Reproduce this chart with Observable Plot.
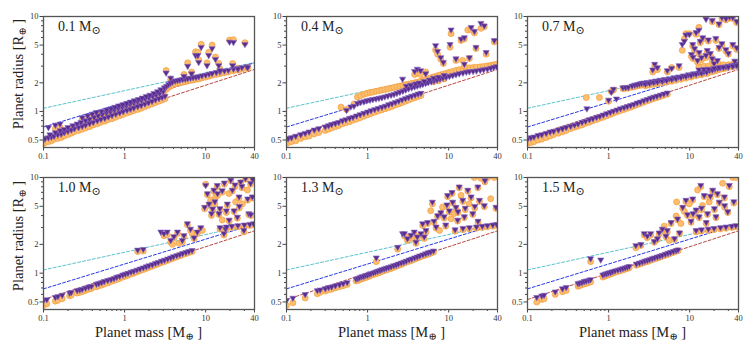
<!DOCTYPE html>
<html><head><meta charset="utf-8">
<script src="https://cdn.jsdelivr.net/npm/d3@7"></script>
<script src="https://cdn.jsdelivr.net/npm/@observablehq/plot@0.6"></script>
<style>
body{margin:0;background:#fff;}
#wrap{position:relative;width:756px;height:353px;overflow:hidden;font-family:"Liberation Serif","DejaVu Serif",serif;color:#222;}
.pan{position:absolute;}
.lab{position:absolute;font-size:14px;line-height:15px;white-space:nowrap;}
.lab .sub{font-size:11px;position:relative;top:3px;}
.ylab{position:absolute;font-size:14.5px;white-space:nowrap;transform:translate(-50%,-50%) rotate(-90deg);}
.xlab{position:absolute;font-size:14.5px;white-space:nowrap;transform:translate(-50%,-50%);}
.sub{font-size:10px;position:relative;top:3px;}
</style></head><body><div id="wrap"></div>
<script>
// ---- axis ticks ----
const massTicks = [0.1, 1, 10, 40];
const massMinor = [0.2,0.3,0.4,0.5,0.6,0.7,0.8,0.9,2,3,4,5,6,7,8,9,20,30];
const radiusTicks = [0.5, 1, 2, 5, 10];
const radiusMinor = [0.6,0.7,0.8,0.9,3,4,6,7,8,9];
// ---- dashed reference relations (values at mass 0.1 and 40) ----
const lineMass = [0.1, 40];
const cyanLine = [1.08, 3.28];
const blueLine = [0.685, 3.25];
const redLine = [0.53, 2.77];
// ---- panel titles (stellar mass) ----
const starMasses = ["0.1", "0.4", "0.7", "1.0", "1.3", "1.5"];

// each row: [planet mass, radius (orange circle), radius (purple triangle)]
const p1 = [
[0.10,0.46,0.50],[0.105,0.47,0.52],[0.115,0.48,0.53],[0.125,0.49,0.54],[0.135,0.51,0.55],[0.15,0.52,0.57],[0.165,0.53,0.58],[0.18,0.55,0.60],[0.2,0.57,0.62],[0.22,0.59,0.64],[0.24,0.61,0.66],[0.27,0.63,0.68],[0.3,0.65,0.70],[0.33,0.67,0.72],[0.37,0.69,0.75],[0.41,0.72,0.77],[0.46,0.74,0.80],[0.51,0.77,0.83],[0.57,0.79,0.85],[0.63,0.82,0.88],[0.7,0.84,0.91],[0.78,0.87,0.94],[0.87,0.90,0.97],[0.96,0.93,1.00],[1.07,0.96,1.03],[1.18,0.99,1.06],[1.3,1.02,1.09],[1.45,1.05,1.13],[1.6,1.08,1.16],[1.78,1.12,1.20],[1.97,1.16,1.24],[2.18,1.20,1.28],[2.4,1.24,1.33],[2.65,1.28,1.37],[2.9,1.32,1.41],[3.15,1.36,1.45],
[0.12,0.53,0.57],[0.14,0.55,0.60],[0.16,0.58,0.63],[0.18,0.61,0.65],[0.2,0.63,0.68],[0.23,0.66,0.71],[0.26,0.69,0.74],[0.29,0.72,0.77],[0.33,0.74,0.80],[0.37,0.77,0.83],[0.42,0.81,0.87],[0.47,0.84,0.90],[0.53,0.87,0.93],[0.6,0.90,0.97],[0.67,0.93,1.00],[0.75,0.96,1.04],[0.84,1.00,1.08],[0.94,1.03,1.11],[1.05,1.07,1.15],[1.17,1.10,1.19],[1.3,1.14,1.23],[1.45,1.18,1.27],[1.62,1.22,1.31],[1.8,1.26,1.36],[2.0,1.30,1.40],[2.22,1.35,1.45],[2.45,1.39,1.50],[2.7,1.44,1.55],[3.0,1.50,1.62],
[0.115,null,0.68],[0.14,0.66,0.72],[0.16,0.68,0.74],[0.3,0.82,0.86],[0.35,0.85,0.90],[0.4,0.88,0.94],[0.45,0.91,0.98],[0.52,0.94,1.00],[0.6,0.98,1.04],[0.68,1.01,1.07],[0.76,1.05,1.11],[0.85,1.08,1.15],[0.95,1.12,1.18],[1.06,1.15,1.22],[1.18,1.19,1.26],[1.32,1.23,1.30],[1.48,1.27,1.34],[1.65,1.31,1.39],[1.85,1.35,1.44],[2.05,1.40,1.49],[2.3,1.46,1.55],[2.55,1.52,1.62],[2.8,1.58,1.70],[3.1,1.65,1.78],
[3.3,1.72,1.85],[3.5,1.80,1.93],[3.7,1.85,2.00],[3.9,1.90,2.05],[4.2,1.95,2.10],[4.5,1.98,2.12],[4.8,2.00,2.15],[5.2,2.03,2.18],[5.6,2.05,2.20],[6.0,2.10,2.22],[6.5,2.12,2.25],[7.0,2.15,2.28],[7.6,2.18,2.30],[8.2,2.20,2.33],[9.0,2.25,2.38],[10,2.30,2.42],[11,2.35,2.48],[12,2.40,2.52],[13.5,2.45,2.58],[15,2.50,2.62],[17,2.55,2.68],[19,2.60,2.72],[22,2.68,2.80],[25,2.72,2.85],[28,2.78,2.90],[32,2.85,2.98],
[3.25,2.7,2.55],[3.7,2.2,2.25],[5.4,2.45,2.35],[6.0,3.25,3.0],[6.7,2.6,2.5],[7.5,4.25,3.9],[8.0,4.2,3.9],[8.2,3.5,3.3],[8.8,5.1,4.75],[10.4,3.25,3.05],[10.9,4.2,3.9],[12,5.0,4.6],[13.2,3.75,3.55],[14.5,3.2,3.05],[15,2.8,2.7],[19.7,5.65,5.4],[22,5.7,5.35],[21.5,3.2,3.05],[25,2.85,2.8],[30.5,5.3,5.1],[33,2.9,2.9]
];
const p2 = [
[0.10,0.46,0.51],[0.105,0.47,0.52],[0.115,0.48,0.53],[0.13,0.49,0.55],[0.15,0.52,0.57],[0.17,0.54,0.59],[0.19,0.55,0.61],[0.22,0.58,0.64],[0.25,0.60,0.66],[0.3,0.63,0.69],[0.33,0.65,0.71],[0.36,0.67,0.73],[0.4,0.69,0.75],[0.44,0.71,0.77],[0.49,0.74,0.80],[0.54,0.76,0.82],[0.6,0.78,0.85],[0.66,0.81,0.87],[0.73,0.83,0.90],[0.81,0.86,0.93],[0.9,0.89,0.96],[1.0,0.92,0.99],[1.1,0.95,1.02],[1.22,0.98,1.05],[1.35,1.01,1.08],[1.5,1.04,1.11],[1.65,1.07,1.14],[1.82,1.10,1.18],[2.0,1.13,1.21],[2.2,1.17,1.25],[2.42,1.20,1.29],[2.66,1.24,1.33],[2.93,1.28,1.37],[3.2,1.32,1.41],[3.5,1.36,1.45],[3.85,1.40,1.49],[4.2,1.44,1.53],[4.55,1.47,1.56],
[0.47,1.11,null],[0.55,1.05,1.03],[0.62,null,1.12],[0.68,1.20,1.14],[0.75,1.42,1.22],[0.82,1.47,1.25],[0.9,1.52,1.27],[0.98,1.55,1.30],[1.07,1.58,1.32],[1.16,1.60,1.34],[1.27,1.63,1.36],[1.38,1.65,1.38],[1.5,1.68,1.40],[1.63,1.70,1.43],[1.78,1.73,1.46],[1.95,1.76,1.49],[2.12,1.79,1.52],[2.3,1.82,1.56],[2.5,1.85,1.60],[2.72,1.88,1.64],[2.95,1.91,1.69],[3.2,1.94,1.74],[3.5,1.97,1.78],[3.8,2.0,1.82],[4.1,2.03,1.86],[4.45,2.07,1.90],[4.8,2.12,1.94],[5.2,2.17,1.98],[5.6,2.22,2.02],[6.1,2.27,2.06],[6.6,2.32,2.10],[7.2,2.37,2.15],[7.8,2.42,2.20],[8.5,2.47,2.25],[9.3,2.52,2.30],[10.2,2.58,2.35],[11.2,2.64,2.40],[12.3,2.70,2.45],[13.5,2.75,2.50],[15,2.80,2.55],[16.5,2.85,2.60],[18,2.88,2.63],[20,2.90,2.65],[22,2.92,2.68],[24.5,2.95,2.72],[27,2.98,2.76],[30,3.02,2.80],[33,3.06,2.86],[36,3.10,2.92],[39,3.14,2.98],
[3.0,null,1.85],[3.4,null,1.9],[3.9,null,1.95],[4.3,null,2.0],[5.0,null,2.08],[5.8,null,2.15],[6.5,2.05,2.25],[7.5,2.1,2.3],[8.8,2.2,2.4],
[2.7,null,2.2],[3.8,2.45,2.65],[4.1,2.55,2.8],[4.5,2.45,2.7],[5.2,2.6,2.5],
[6.9,4.45,4.95],[7.3,4.0,4.3],[8.0,3.55,3.7],[8.6,3.2,3.3],[10.4,4.75,5.1],[10.7,6.6,7.25],[12.3,3.45,3.6],[14.2,5.6,5.8],[14.8,3.45,null],[15.6,3.0,3.15],[15.6,5.8,6.0],[17.2,7.2,null],[18.9,7.3,7.7],[18.0,3.6,3.7],[20.8,6.7,7.0],[21.7,4.6,4.75],[25,7.5,8.5],[27.5,7.8,8.0],[29,4.0,4.2],[36.5,5.4,5.6]
];
const p3 = [
[0.10,0.46,0.51],[0.11,0.47,0.53],[0.12,0.48,0.54],[0.135,0.50,0.56],[0.15,0.51,0.57],[0.17,0.53,0.59],[0.19,0.55,0.61],[0.21,0.57,0.62],[0.24,0.59,0.64],[0.27,0.61,0.66],[0.3,0.63,0.68],[0.34,0.66,0.70],[0.38,0.68,0.72],[0.42,0.70,0.74],[0.47,0.72,0.77],[0.52,0.75,0.79],[0.58,0.77,0.82],[0.64,0.80,0.84],[0.71,0.82,0.87],[0.78,0.85,0.89],[0.86,0.87,0.92],[0.95,0.90,0.95],[1.05,0.93,0.98],[1.15,0.96,1.01],[1.27,0.99,1.04],[1.4,1.02,1.07],[1.55,1.05,1.10],[1.7,1.08,1.13],[1.87,1.11,1.16],[2.05,1.14,1.19],[2.25,1.18,1.23],[2.47,1.21,1.26],[2.72,1.25,1.30],[3.0,1.29,1.34],[3.3,1.33,1.38],[3.6,1.37,1.42],[3.95,1.40,1.45],[4.35,1.44,1.49],[4.8,1.48,1.53],[5.3,1.52,1.57],
[0.53,1.40,null],[0.54,null,1.07],[0.77,1.40,null],[1.0,1.28,1.32],[1.08,1.62,1.60],[1.15,1.68,1.72],[1.25,null,1.36],[1.5,1.74,1.78],[1.62,1.75,1.79],[1.75,1.76,1.80],[1.95,1.80,1.86],[2.1,1.83,1.90],[2.25,1.86,1.92],[2.4,1.88,1.95],[2.55,1.90,1.98],[2.7,1.92,2.00],[2.85,1.86,1.94],[3.0,1.95,2.03],[3.2,1.90,1.98],[3.4,1.98,2.06],[3.6,1.93,2.02],[3.8,2.02,2.10],[4.0,1.97,2.05],[4.3,2.05,2.14],[4.6,2.00,2.08],[4.9,2.08,2.18],[5.2,2.04,2.12],[5.6,2.12,2.22],[6.0,2.08,2.18],[6.4,2.17,2.27],[6.8,2.13,2.22],[7.3,2.22,2.32],[7.8,2.18,2.28],[8.4,2.28,2.38],[9.0,2.24,2.34],[9.7,2.34,2.44],[10.4,2.30,2.40],[11.2,2.40,2.50],[12,2.37,2.47],[13,2.46,2.56],[14,2.43,2.53],[15,2.52,2.62],[16.2,2.50,2.60],[17.5,2.58,2.70],[19,2.62,2.74],[20.5,2.67,2.80],[22,2.72,2.86],[24,2.78,2.90],[26,2.82,2.94],[28,2.86,2.96],[30,2.90,3.0],[33,2.95,3.05],[36,3.0,3.1],[39,3.05,3.15],
[13,2.95,2.75],[15,3.0,2.78],[17,3.0,2.8],[20,3.05,2.85],[23,3.05,2.9],[26,3.1,2.92],[30,3.1,2.95],[34,3.15,3.0],[38,3.2,3.05],
[3.5,2.6,2.75],[3.7,3.0,3.15],[4.0,2.75,2.9],[5.3,2.6,2.7],[6.0,2.9,2.85],[7.4,2.9,3.05],[8.1,4.4,5.1],[8.6,5.8,5.5],[9.0,6.6,6.4],[9.9,6.6,6.5],[10.9,4.9,5.1],[11.5,4.4,4.6],[12,6.5,6.8],[13,7.7,7.2],[13.1,4.0,4.2],[14,3.5,3.7],[15.9,10,9.4],[15.9,3.7,3.9],[17,5.5,5.7],[19,8.8,9.1],[19,3.4,3.6],[21,5.6,5.9],[23,8.2,8.4],[23,4.6,4.75],[25,9.5,9.8],[28,9.2,9.5],[28,4.3,4.5],[31,9.6,9.9],[34,4.9,5.1],[34,9.5,9.8],[38,8.6,8.9],[38,4.5,4.7],
[10.5,3.8,4.0],[11,3.6,3.75],[12.5,3.3,3.45],[13.5,5.3,5.5],[14.5,5.8,6.0],[16.5,4.2,4.4],[18,3.9,4.1],[20,3.1,3.2],[22,3.3,3.45],[25,5.0,5.2],[30,4.0,4.1],[36,3.3,3.4]
];
const p4 = [
[0.10,0.46,0.52],[0.11,0.48,0.53],[0.14,0.51,0.56],[0.15,0.52,0.57],[0.17,0.54,0.59],[0.21,0.58,0.62],[0.22,0.59,0.63],[0.26,0.62,0.66],[0.28,0.63,0.67],[0.3,0.64,0.68],[0.33,0.66,0.70],[0.36,0.68,0.72],[0.39,0.69,0.73],[0.45,0.72,0.77],[0.48,0.74,0.78],[0.52,0.75,0.80],[0.56,0.77,0.82],[0.62,0.79,0.84],[0.68,0.82,0.86],[0.74,0.84,0.88],[0.8,0.86,0.91],[0.87,0.88,0.93],[0.95,0.91,0.96],[1.02,0.93,0.98],[1.1,0.95,1.00],[1.2,0.98,1.03],[1.3,1.00,1.05],[1.42,1.03,1.08],[1.55,1.06,1.11],[1.7,1.09,1.14],[1.85,1.12,1.17],[2.0,1.15,1.20],[2.2,1.18,1.23],[2.4,1.22,1.27],[2.6,1.25,1.30],[2.85,1.29,1.34],[3.1,1.32,1.37],[3.4,1.36,1.41],[3.7,1.40,1.45],[4.0,1.44,1.49],[4.4,1.48,1.53],[4.8,1.52,1.57],[5.2,1.56,1.61],[5.7,1.60,1.65],[6.2,1.64,1.69],[6.8,1.68,1.73],
[1.45,1.68,1.75],[1.7,1.70,1.78],
[2.8,null,2.7],[3.06,2.46,2.6],[3.36,2.52,2.7],[3.7,2.1,2.2],[3.9,2.0,null],[4.06,2.35,2.42],[4.5,2.6,2.7],[4.7,2.05,null],[5.15,2.12,2.2],[5.4,2.4,2.48],[5.95,3.2,3.3],[6.5,2.8,2.9],[6.8,2.6,null],[7.2,2.3,2.35],[7.9,2.6,2.7],[8.7,2.9,3.0],[9.1,2.8,null],[9.7,4.7,4.9],[10,8.5,8.3],[10.5,6.6,6.8],[11,5.1,5.3],[11.5,5.8,null],[12.6,7.2,7.4],[13.3,6.3,null],[13.9,8.0,8.3],[14.6,4.1,4.2],[15,4.6,4.75],[16,3.6,null],[16.8,2.5,2.6],[17.6,2.8,2.9],[18.5,5.1,5.3],[19.4,6.8,null],[20.4,9.2,9.4],[21.3,7.2,7.4],[22.4,4.4,4.5],[23.4,5.55,null],[24.6,3.75,3.87],[25.8,6.1,6.3],[27,8.8,9.0],[28.3,5.3,null],[29.6,2.7,2.8],[31,9.6,9.8],[32.7,7.4,null],[34,4.1,4.2],[35.8,8.5,8.7],[37.6,6.1,6.3],[38.7,10,null],
[15,2.9,3.0],[18,2.95,3.05],[21,3.0,3.1],[25,3.05,3.15],[30,3.1,3.2],[35,3.15,3.25],[39,3.2,3.3],
[11.8,4.0,4.2],[12.2,4.5,4.7],[13,5.3,5.6],[14,6.5,6.8],[16,7.0,7.3],[17,8.5,8.8],[18,4.3,4.5],[19.5,3.5,3.6],[23,8.0,8.4],[26,4.8,5.0],[28,7.8,8.1],[33,5.8,6.0],[36,4.0,4.1],[38,9.3,9.6]
];
const p5 = [
[0.10,0.46,0.52],[0.12,0.49,0.55],[0.17,0.55,0.60],[0.24,0.61,0.66],[0.26,0.63,0.67],[0.3,0.65,0.69],[0.33,0.67,0.71],[0.36,0.68,0.72],[0.4,0.70,0.74],[0.45,0.72,0.76],[0.5,0.74,0.78],[0.56,0.76,0.80],[0.72,0.83,0.87],[0.76,0.84,0.88],[0.8,0.86,0.90],[0.85,0.87,0.92],[0.9,0.89,0.93],[0.95,0.90,0.95],[1.0,0.92,0.96],[1.05,0.93,0.98],[1.1,0.95,0.99],[1.18,0.97,1.01],[1.25,0.98,1.03],[1.33,1.00,1.05],[1.42,1.02,1.07],[1.5,1.04,1.09],[1.6,1.06,1.11],[1.7,1.08,1.13],[1.82,1.10,1.15],[1.95,1.12,1.17],[2.1,1.15,1.20],[2.25,1.18,1.22],[2.4,1.20,1.25],[2.6,1.23,1.28],[2.8,1.27,1.31],[3.0,1.30,1.34],[3.25,1.33,1.38],[3.5,1.36,1.41],[3.8,1.40,1.45],[4.1,1.44,1.48],[4.4,1.47,1.52],[4.8,1.51,1.56],[5.2,1.55,1.60],[5.6,1.58,1.64],[6.0,1.62,1.67],[6.5,1.66,1.71],
[1.28,1.32,1.45],[2.35,1.78,1.87],
[2.7,null,2.6],[2.84,2.45,2.6],[3.0,2.4,null],[3.1,2.2,2.3],[3.43,2.35,2.5],[3.6,2.3,null],[3.76,2.55,2.7],[3.95,2.05,2.12],[4.1,2.3,2.4],[4.55,2.5,2.6],[4.77,3.15,3.3],[5.0,2.3,2.4],[5.25,2.7,2.8],[5.5,3.3,3.4],[6.0,4.5,null],[6.3,5.3,5.55],[6.6,3.4,3.5],[7.0,2.95,3.05],[7.3,3.9,4.0],[7.7,2.8,null],[8.0,4.2,4.3],[8.4,4.9,null],[8.8,3.75,3.9],[9.2,3.1,3.2],[9.7,6.3,6.5],[10.2,4.35,4.5],[10.7,3.7,null],[11.2,5.4,5.55],[11.7,4.2,null],[12.3,4.75,4.9],[12.9,3.5,3.6],[13.5,7.8,8.0],[14.2,6.5,null],[14.9,5.6,5.8],[15.6,3.8,3.9],[17.2,7.2,7.4],[17.9,5.3,null],[18.9,6.1,6.3],[19.8,4.1,4.2],[20.7,10,null],[22.9,7.8,8.0],[24,5.6,5.8],[25,9.8,null],[27.5,4.95,5.1],[30.4,10,null],[36.6,10,null],[38.3,4.75,4.9],
[12,2.75,2.85],[15,2.85,2.95],[18,2.9,3.0],[22,2.95,3.05],[26,3.0,3.1],[30,3.05,3.15],[35,3.1,3.2],[39,3.15,3.25],
[9.5,5.0,5.2],[11,6.8,7.0],[13,4.3,4.4],[16,4.6,4.8],[21,4.8,5.0],[23,3.4,3.5],[28,9.0,9.3],[33,6.0,null]
];
const p6 = [
[0.13,0.50,0.56],[0.15,0.53,0.58],[0.16,0.54,0.59],[0.22,0.60,0.64],[0.27,0.64,0.69],[0.3,0.66,0.71],[0.42,0.73,0.78],[0.44,0.74,0.79],[0.47,0.76,0.80],[0.5,0.77,0.82],[0.53,0.78,0.83],[0.57,0.80,0.84],[0.6,0.81,0.86],[0.85,0.91,0.96],[0.9,0.93,0.98],[0.95,0.95,0.99],[1.0,0.96,1.01],[1.06,0.98,1.02],[1.12,1.00,1.04],[1.2,1.02,1.06],[1.3,1.04,1.08],[1.4,1.06,1.10],[1.5,1.08,1.12],[1.6,1.10,1.14],[1.7,1.12,1.16],[1.8,1.14,1.18],[2.2,1.21,1.25],[2.4,1.24,1.28],[2.6,1.27,1.31],[2.8,1.30,1.34],[3.0,1.32,1.36],[3.2,1.35,1.39],[3.45,1.38,1.42],[3.7,1.41,1.45],[4.0,1.44,1.48],[4.3,1.47,1.51],[4.6,1.50,1.54],[5.0,1.54,1.58],[5.4,1.57,1.62],[5.8,1.61,1.65],[6.3,1.65,1.69],[6.8,1.69,1.73],[7.2,1.72,1.76],
[0.6,1.32,1.42],[0.8,null,1.38],
[2.17,1.84,1.95],[2.5,1.95,2.0],[2.75,2.5,2.6],[3.0,2.35,2.45],[3.3,2.5,2.6],[3.66,2.1,2.15],[4.0,2.25,2.3],[4.2,2.55,2.65],[4.6,2.8,2.9],[4.85,3.1,null],[5.1,2.4,2.45],[5.3,2.7,2.8],[5.6,2.2,null],[5.9,3.3,3.4],[6.5,2.25,2.3],[6.8,3.95,null],[6.9,5.55,null],[7.1,3.6,3.7],[7.5,2.6,2.65],[7.8,3.3,null],[8.2,4.75,4.9],[8.6,4.4,null],[9.0,5.6,5.8],[9.4,4.0,4.1],[9.9,5.3,null],[10.4,3.4,3.5],[10.9,5.8,6.0],[12,4.45,4.6],[12.5,7.4,null],[13.1,3.8,3.9],[13.7,8.0,8.3],[14.4,5.1,null],[15.1,6.3,6.5],[16.6,4.1,4.2],[17.4,5.55,null],[19.2,7.2,7.4],[20.2,4.6,4.75],[21.1,3.8,3.9],[23.2,5.4,5.55],[25.5,8.7,null],[26.8,6.1,6.3],[29.5,4.3,4.4],[30.8,8.0,8.3],[34,10,null],[37.4,10,null],
[12,2.7,2.8],[14,2.75,2.85],[17,2.8,2.9],[20,2.85,2.95],[24,2.9,3.0],[28,2.95,3.05],[33,3.0,3.1],[37,3.05,3.15],
[11,4.0,4.2],[14,4.6,4.8],[16,3.3,3.4],[18,6.2,6.4],[22,6.6,6.8],[27,4.9,5.1],[35,5.4,5.6]
];

const panels = [p1, p2, p3, p4, p5, p6];
// frame placement: [left, top, height]
const W = 211, mL = 34, mR = 8, mT = 6, mB = 20;
const frames = [[43,16,131],[286,16,131],[527,16,131],[43,177,132],[286,177,132],[527,177,132]];

const lineDefs = [["#5cc3cd", cyanLine], ["#2638e6", blueLine], ["#b8473d", redLine]];
const wrap = document.getElementById("wrap");

panels.forEach((rows, i) => {
  const [fx, fy, H] = frames[i];
  const circles = rows.filter(d => d[1] != null).map(d => ({m: d[0], r: d[1]}));
  const tris = rows.filter(d => d[2] != null).map(d => ({m: d[0], r: d[2]}));
  const svg = Plot.plot({
    width: W + mL + mR, height: H + mT + mB,
    marginLeft: mL, marginRight: mR, marginTop: mT, marginBottom: mB,
    x: {type: "log", domain: [0.1, 40], axis: null, label: null},
    y: {type: "log", domain: [0.417, 10], axis: null, label: null},
    style: {fontFamily: "'Liberation Serif', serif", fontSize: "8.5px", color: "#333", background: "transparent"},
    marks: [
      ...lineDefs.map(([c, ys]) => Plot.line(lineMass.map((m, k) => ({m, r: ys[k]})), {x: "m", y: "r", stroke: c, strokeWidth: 1, strokeDasharray: "3,2"})),
      Plot.dot(circles, {x: "m", y: "r", r: 3.0, fill: "#fdbf6f", stroke: "#f39c3a", strokeWidth: 0.7, clip: true}),
      Plot.dot(tris, {x: "m", y: "r", symbol: "triangle", r: 2.3, rotate: 180, fill: "#5a2c8e", stroke: "#8468c2", strokeWidth: 0.6, clip: true}),
      Plot.axisY({ticks: radiusTicks, tickSize: 3.5, tickPadding: 1.5, tickFormat: d => String(d), stroke: "#444", label: null}),
      Plot.axisY({ticks: radiusMinor, tickSize: 2, tickFormat: () => "", stroke: "#444", label: null}),
      Plot.axisX({ticks: massTicks, tickSize: 3.5, tickPadding: 2, tickFormat: d => String(d), stroke: "#444", label: null}),
      Plot.axisX({ticks: massMinor, tickSize: 2, tickFormat: () => "", stroke: "#444", label: null}),
      Plot.frame({stroke: "#555", strokeWidth: 1.3})
    ]
  });
  svg.classList.add("pan");
  svg.style.left = (fx - mL) + "px";
  svg.style.top = (fy - mT) + "px";
  wrap.appendChild(svg);

  const lab = document.createElement("div");
  lab.className = "lab";
  lab.style.left = (fx + 15) + "px";
  lab.style.top = (fy + 3) + "px";
  lab.innerHTML = starMasses[i] + " M<span class=\"sub\">⊙</span>";
  wrap.appendChild(lab);
});

[[18, 74], [18, 236]].forEach(([x, y]) => {
  const d = document.createElement("div");
  d.className = "ylab";
  d.style.left = x + "px"; d.style.top = y + "px";
  d.innerHTML = "Planet radius [R<span class=\"sub\">⊕</span> ]";
  wrap.appendChild(d);
});
[148.5, 391.5, 632.5].forEach(x => {
  const d = document.createElement("div");
  d.className = "xlab";
  d.style.left = x + "px"; d.style.top = "332px";
  d.innerHTML = "Planet mass [M<span class=\"sub\">⊕</span> ]";
  wrap.appendChild(d);
});
</script></body></html>
